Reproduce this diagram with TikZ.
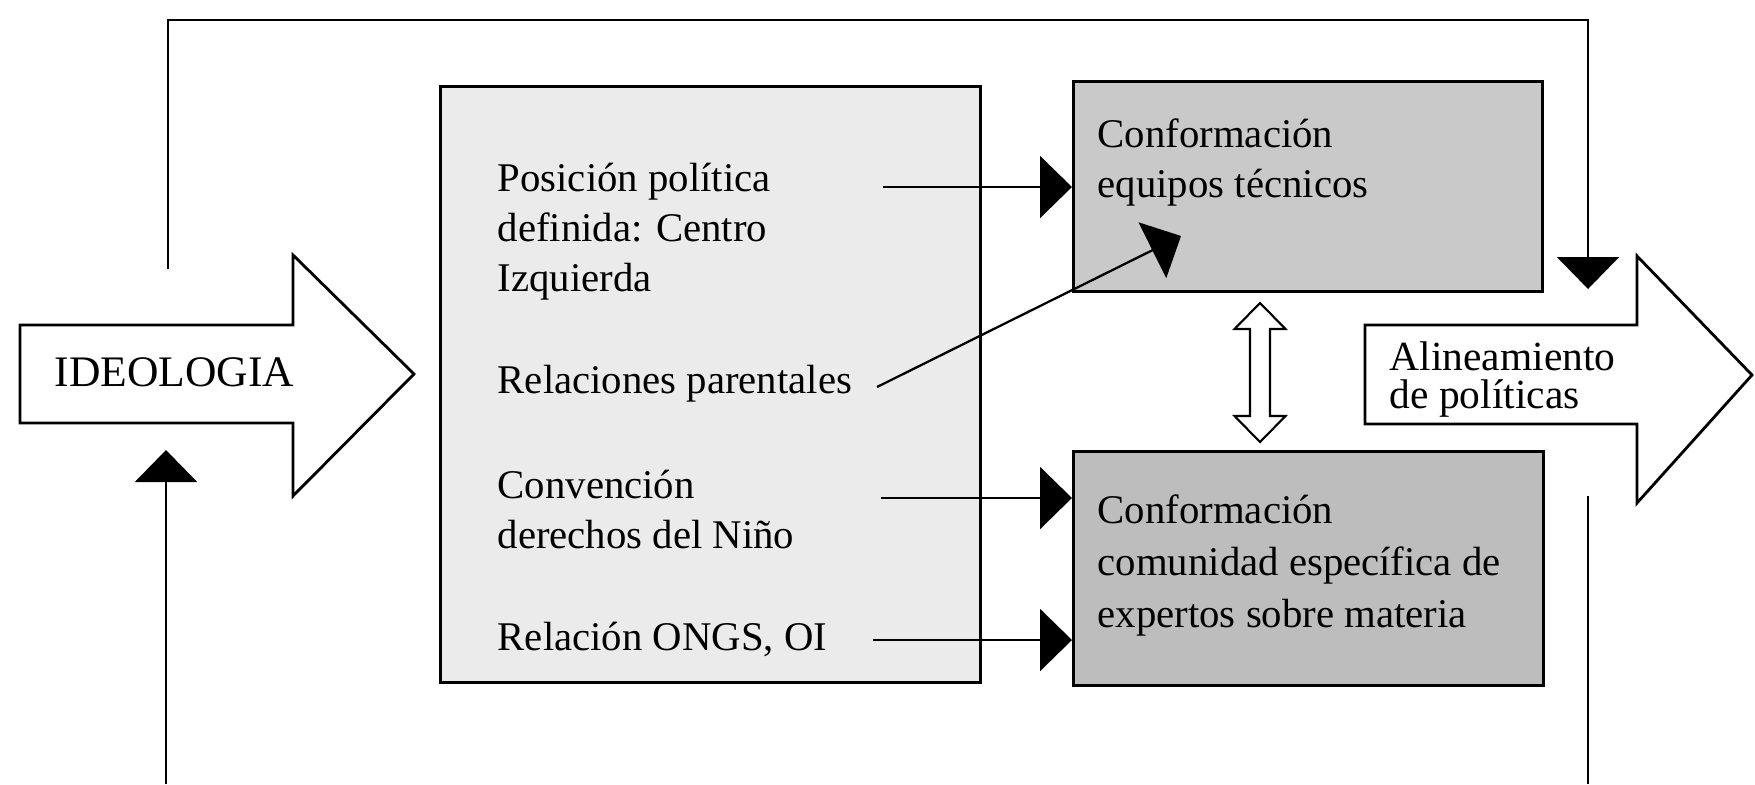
\documentclass[tikz,border=0pt]{standalone}
\usepackage{fontspec}
\setmainfont{Liberation Serif}
\usetikzlibrary{arrows.meta}
\begin{document}
\begin{tikzpicture}[
  factor/.style={font=\fontsize{11.6}{14.2}\selectfont, align=left, inner sep=0pt, anchor=base west},
  panel/.style={draw, line width=0.85pt, anchor=south west, inner sep=0pt},
  bigarrow/.style={draw, line width=0.8pt, fill=white},
  link/.style={-{Triangle[length=0.32cm, width=0.62cm]}, line width=0.65pt}
]
  \useasboundingbox (0,0) rectangle (17.55,7.84);

  % ideologia arrow
  \draw[bigarrow] (0.20,3.61) -- (0.20,4.59) -- (2.93,4.59) -- (2.93,5.29) -- (4.14,4.10)
    -- (2.93,2.88) -- (2.93,3.61) -- cycle;
  \node[factor, font=\fontsize{12.4}{14}\selectfont] (ideologia) at (0.54,3.98) {IDEOLOGIA};

  % boxes
  \node[panel, fill=black!8, minimum width=5.40cm, minimum height=5.96cm] (factores) at (4.39,1.00) {};
  \node[panel, fill=black!21, minimum width=4.69cm, minimum height=2.10cm] (equipos) at (10.72,4.91) {};
  \node[panel, fill=black!26, minimum width=4.70cm, minimum height=2.34cm] (expertos) at (10.72,0.97) {};

  % anchor base = last line
  \node[factor] (posicion) at (4.97,4.93) {Posición política\\definida: Centro\\Izquierda};
  \node[factor] (parentales) at (4.97,3.91) {Relaciones parentales};
  \node[factor] (convencion) at (4.97,2.36) {Convención\\derechos del Niño};
  \node[factor] (ongs) at (4.97,1.34) {Relación ONGS, OI};

  \node[factor] (equipostxt) at (10.97,5.87) {Conformación\\equipos técnicos};
  \node[factor, font=\fontsize{11.6}{14.7}\selectfont] (expertostxt) at (10.97,1.57)
    {Conformación\\comunidad específica de\\expertos sobre materia};

  % alineamiento arrow
  \draw[bigarrow] (13.65,3.60) -- (13.65,4.59) -- (16.37,4.59) -- (16.37,5.28) -- (17.52,4.09)
    -- (16.37,2.81) -- (16.37,3.60) -- cycle;
  \node[factor, font=\fontsize{11.8}{10.6}\selectfont] (alineamiento) at (13.89,3.76) {Alineamiento\\de políticas};

  % two-way arrow between the boxes
  \draw[bigarrow, line width=0.6pt] (12.60,4.81) -- (12.855,4.55) -- (12.70,4.55) -- (12.70,3.68)
    -- (12.855,3.68) -- (12.60,3.42) -- (12.345,3.68) -- (12.50,3.68) -- (12.50,4.55)
    -- (12.345,4.55) -- cycle;

  % connectors
  \coordinate (p1) at (8.83,5.97);
  \coordinate (p2) at (8.77,3.97);
  \coordinate (p2tip) at (11.81,5.48);
  \coordinate (p3) at (8.81,2.86);
  \coordinate (p4) at (8.73,1.44);
  \draw[link] (p1) -- (p1 -| equipos.west);
  \draw[link] (p2) -- (p2tip);
  \draw[link] (p3) -- (p3 -| expertos.west);
  \draw[link] (p4) -- (p4 -| expertos.west);

  % feedback loop
  \coordinate (fbout) at (1.68,5.15);
  \coordinate (fbin) at (15.88,4.95);
  \coordinate (retin) at (1.66,0);
  \coordinate (ideobase) at (1.66,3.34);
  \coordinate (retup) at (15.88,2.88);
  \coordinate (retout) at (15.88,0);
  \draw[link] (fbout) -- ++(0,2.49) -| (fbin);
  \draw[link] (retin) -- (ideobase);
  \draw[line width=0.65pt] (retup) -- (retout);
\end{tikzpicture}
\end{document}
